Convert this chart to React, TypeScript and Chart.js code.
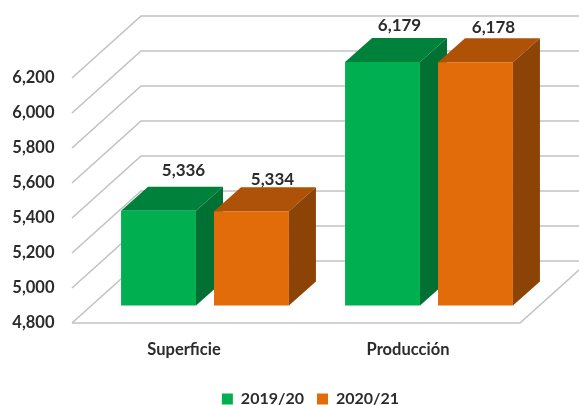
import React, { useEffect, useRef } from "react";
import { Chart, registerables } from "chart.js";

Chart.register(...registerables);

const categories = ["Superficie", "Producción"];
const seriesNames = ["2019/20", "2020/21"];
const values2019 = [5336, 6179];
const values2020 = [5334, 6178];

const FONT = "Lato, Carlito, 'Open Sans', sans-serif";
const TEXT = "#2b2b2b";
const GRID = "#c2c2c2";
const FRONT = ["#00B050", "#E36C0A"];
const TOP = ["#00813B", "#AE5207"];
const SIDE = ["#007033", "#8C4306"];
// room depth and bar depth of the fake 3D view
const ROOM = { dx: 69, dy: -62, shift: -21 };
const BAR = { dx: 27, dy: -24 };
// data label placement relative to each bar's top centre: [series][category]
const LABEL_NUDGE = [
  [[25, -40], [17, -37]],
  [[21, -32], [18, -35]],
];

const fmt = (v: number) => v.toLocaleString("en-US");

const threeD = {
  id: "threeD",
  afterLayout(chart: any) {
    const l = chart.legend;
    if (l) {
      l.left += 40;
      l.right += 40;
      l.top += 12;
      l.bottom += 12;
    }
  },
  beforeDatasetsDraw(chart: any) {
    const { ctx, chartArea: a, scales } = chart;
    const y = scales.y;
    const x0 = a.left + ROOM.shift;
    const x1 = a.right + ROOM.shift;
    ctx.save();
    ctx.strokeStyle = GRID;
    ctx.lineWidth = 1.6;
    y.ticks.forEach((t: any) => {
      const py = y.getPixelForValue(t.value);
      ctx.beginPath();
      ctx.moveTo(x0, py);
      ctx.lineTo(x0 + ROOM.dx, py + ROOM.dy);
      ctx.lineTo(chart.width + 5, py + ROOM.dy);
      ctx.stroke();
    });
    const by = y.getPixelForValue(y.min);
    ctx.beginPath();
    ctx.moveTo(x0, by);
    ctx.lineTo(x1, by);
    ctx.lineTo(x1 + ROOM.dx, by + ROOM.dy);
    ctx.stroke();
    // top and side faces of every bar, series by series; the library then paints the front faces over them
    chart.data.datasets.forEach((_: any, i: number) => {
      chart.getDatasetMeta(i).data.forEach((el: any) => {
        const L = el.x - el.width / 2;
        const R = el.x + el.width / 2;
        const T = el.y;
        const B = el.base;
        ctx.fillStyle = TOP[i];
        ctx.beginPath();
        ctx.moveTo(L, T);
        ctx.lineTo(L + BAR.dx, T + BAR.dy);
        ctx.lineTo(R + BAR.dx, T + BAR.dy);
        ctx.lineTo(R, T);
        ctx.closePath();
        ctx.fill();
        ctx.fillStyle = SIDE[i];
        ctx.beginPath();
        ctx.moveTo(R, T);
        ctx.lineTo(R + BAR.dx, T + BAR.dy);
        ctx.lineTo(R + BAR.dx, B + BAR.dy);
        ctx.lineTo(R, B);
        ctx.closePath();
        ctx.fill();
      });
    });
    ctx.restore();
  },
  afterDatasetsDraw(chart: any) {
    const { ctx } = chart;
    ctx.save();
    ctx.font = `bold 17px ${FONT}`;
    ctx.fillStyle = TEXT;
    ctx.textAlign = "center";
    ctx.textBaseline = "middle";
    chart.data.datasets.forEach((ds: any, i: number) => {
      chart.getDatasetMeta(i).data.forEach((el: any, j: number) => {
        const [nx, ny] = LABEL_NUDGE[i][j];
        ctx.fillText(fmt(ds.data[j]), el.x + nx, el.y + ny);
      });
    });
    ctx.restore();
  },
};

export default function App() {
  const ref = useRef<HTMLCanvasElement>(null);
  useEffect(() => {
    const common = {
      categoryPercentage: 0.83,
      barPercentage: 0.806,
      base: 4800,
      clip: false,
      yAxisID: "y2",
      borderWidth: 0,
    };
    const chart = new Chart(ref.current as HTMLCanvasElement, {
      type: "bar",
      data: {
        labels: categories,
        datasets: [
          { ...common, label: seriesNames[0], data: values2019, backgroundColor: FRONT[0] },
          { ...common, label: seriesNames[1], data: values2020, backgroundColor: FRONT[1] },
        ],
      } as any,
      plugins: [threeD],
      options: {
        animation: false,
        responsive: false,
        layout: { padding: { top: 78, right: 38, left: 0, bottom: 0 } },
        plugins: {
          tooltip: { enabled: false },
          title: { display: false },
          legend: {
            position: "bottom",
            labels: {
              boxWidth: 11,
              boxHeight: 11,
              padding: 13,
              color: TEXT,
              font: { family: FONT, size: 16, weight: "bold" },
            },
          },
        },
        scales: {
          x: {
            grid: { display: false },
            border: { display: false },
            ticks: {
              labelOffset: -21,
              padding: 9,
              maxRotation: 0,
              color: TEXT,
              font: { family: FONT, size: 16.5, weight: "bold" },
            },
            afterFit(s: any) {
              s.height = 43;
            },
          },
          y: {
            min: 4800,
            max: 6200,
            grid: { display: false, drawTicks: false },
            border: { display: false },
            ticks: {
              stepSize: 200,
              padding: 38.5,
              color: TEXT,
              font: { family: FONT, size: 16.5, weight: "bold" },
              callback: (v: any) => fmt(Number(v)),
            },
            afterFit(s: any) {
              s.width = 93;
            },
          },
          y2: { display: false, position: "left", min: 4700.5, max: 6088.5 },
        },
      } as any,
    });
    return () => chart.destroy();
  }, []);
  return (
    <div style={{ position: "absolute", left: 0, top: 0, width: 579, height: 405, background: "#fff", overflow: "hidden" }}>
      <canvas ref={ref} width={579} height={405} style={{ display: "block", filter: "blur(0.5px)" }} />
    </div>
  );
}
